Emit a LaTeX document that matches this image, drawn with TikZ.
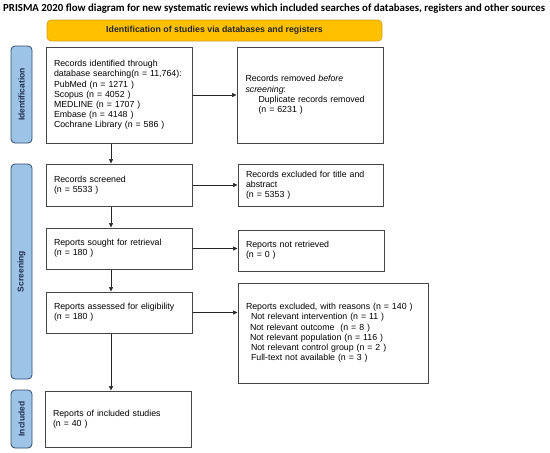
\documentclass[tikz,border=0pt]{standalone}
\usepackage{fontspec}
\setmainfont{Liberation Sans}
\newfontfamily\titlefont{Carlito}
\usetikzlibrary{arrows.meta}
\definecolor{bannerfill}{HTML}{FFC000}
\definecolor{bannerdraw}{HTML}{D4A017}
\definecolor{barfill}{HTML}{9DC3E6}
\definecolor{bardraw}{HTML}{2E4A6E}
\definecolor{bartext}{HTML}{1F2F4F}
\definecolor{boxdraw}{HTML}{454545}
\begin{document}
\begin{tikzpicture}[x=1pt,y=-1pt,
  box/.style={draw=boxdraw, line width=1pt, fill=white, inner xsep=8pt, inner ysep=0pt,
    font=\fontsize{8.8}{10.2}\selectfont, align=left, anchor=center},
  banner/.style={draw=bannerdraw, line width=0.7pt, fill=bannerfill, rounded corners=4pt,
    font=\fontsize{8.8}{9}\selectfont\bfseries, text=black!85, inner sep=0pt},
  sidebar/.style={draw=bardraw, line width=0.8pt, fill=barfill, rounded corners=4pt,
    font=\fontsize{8.5}{9}\selectfont\bfseries, text=bartext, rotate=90, inner sep=0pt},
  arr/.style={-{Triangle[length=4.5pt,width=4pt]}, line width=0.6pt, black!85}
]
\useasboundingbox (0,0) rectangle (550,453);
\fill[white] (0,0) rectangle (550,453);

\node[font=\titlefont\fontsize{10.8}{12}\selectfont\bfseries, anchor=west, inner sep=0pt] (title) at (3,9)
  {PRISMA 2020 flow diagram for new systematic reviews which included searches of databases, registers and other sources};

\node[banner, minimum width=335pt, minimum height=21pt] (ban) at (214.5,30.5)
  {Identification of studies via databases and registers};

\node[sidebar, minimum width=97pt, minimum height=21pt] (bid) at (21.5,94.5) {Identification};
\node[sidebar, minimum width=215pt, minimum height=21pt] (bscr) at (21.5,271.5) {Screening};
\node[sidebar, minimum width=58pt, minimum height=21pt] (binc) at (21.5,419) {Included};

\node[box, text width=130pt, minimum height=96pt] (id) at (119,95)
  {Records identified through\\database searching(n = 11,764):\\PubMed (n = 1271 )\\Scopus (n = 4052 )\\MEDLINE (n = 1707 )\\Embase (n = 4148 )\\Cochrane Library (n = 586 )};

\node[box, text width=129pt, inner xsep=8.5pt, minimum height=96pt] (rem) at (310,95)
  {Records removed \emph{before}\\\emph{screening}:\\\hspace*{13pt}Duplicate records removed\\\hspace*{13pt}(n = 6231 )};

\node[box, text width=130pt, minimum height=42pt] (scr) at (119,185)
  {Records screened\\(n = 5533 )};

\node[box, text width=129pt, minimum height=42pt] (exc) at (310.5,185)
  {Records excluded for title and\\abstract\\(n = 5353 )};

\node[box, text width=130pt, minimum height=41pt] (sought) at (119,248.5)
  {Reports sought for retrieval\\(n = 180 )};

\node[box, text width=130pt, minimum height=41pt] (notret) at (311,250.5)
  {Reports not retrieved\\(n = 0 )};

\node[box, text width=130pt, minimum height=41pt] (assess) at (119,312.5)
  {Reports assessed for eligibility\\(n = 180 )};

\node[box, text width=174pt, minimum height=100pt] (reasons) at (333,333)
  {Reports excluded, with reasons (n = 140 )\\
   \hspace*{5pt}Not relevant intervention (n = 11 )\\
   \hspace*{4pt}Not relevant outcome\ \ (n = 8 )\\
   \hspace*{4pt}Not relevant population (n = 116 )\\
   \hspace*{5pt}Not relevant control group (n = 2 )\\
   \hspace*{5pt}Full-text not available (n = 3 )};

\node[box, text width=130pt, minimum height=56pt] (incl) at (118,419)
  {Reports of included studies\\(n = 40 )};

\coordinate (ax) at (111,0);

\draw[arr] (id) -- (rem);
\draw[arr] (scr) -- (exc);
\draw[arr] (sought.east) -- (sought.east -| notret.west);
\draw[arr] (assess.east) -- (assess.east -| reasons.west);
\draw[arr] (id.south -| ax) -- (scr.north -| ax);
\draw[arr] (scr.south -| ax) -- (sought.north -| ax);
\draw[arr] (sought.south -| ax) -- (assess.north -| ax);
\draw[arr] (assess.south -| ax) -- (incl.north -| ax);
\end{tikzpicture}
\end{document}
